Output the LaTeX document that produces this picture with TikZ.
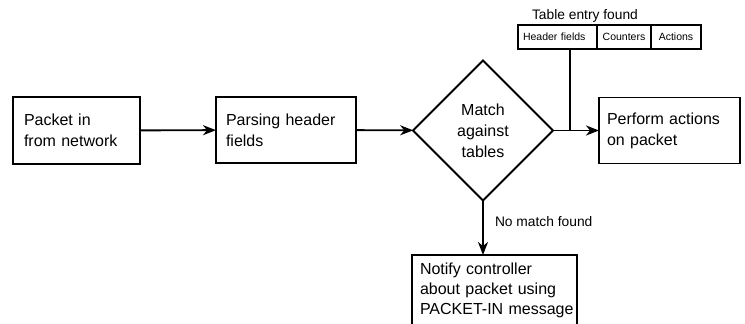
\documentclass[tikz,border=0pt]{standalone}
\usepackage{fontspec}
\setmainfont{Liberation Sans}
\usetikzlibrary{arrows.meta,shapes.geometric}
\begin{document}
\begin{tikzpicture}[x=1pt,y=-1pt,
  every node/.style={outer sep=0pt},
  box/.style={draw,line width=1.9pt,align=left,inner ysep=0pt,font=\fontsize{16}{21}\selectfont},
  cell/.style={draw,line width=1.4pt,minimum height=24pt,inner ysep=0pt,font=\fontsize{10.5}{12}\selectfont},
  conn/.style={line width=1.9pt,-{Stealth[length=13pt,width=10pt,inset=4pt]}},
  lbl/.style={font=\fontsize{13.8}{16}\selectfont,inner sep=0pt}]
\useasboundingbox (0,0) rectangle (745,324);
\node[box,minimum height=67pt,text width=105pt,inner xsep=11pt] (in) at (76.5,130.5) {\mbox{Packet in}\\\mbox{from network}};
\node[box,minimum height=66pt,text width=120pt,inner xsep=10pt] (parse) at (286,130) {\mbox{Parsing header}\\\mbox{fields}};
\node[draw,line width=1.9pt,diamond,aspect=1,minimum width=140pt,minimum height=140pt,inner sep=0pt,align=center,font=\fontsize{16}{21}\selectfont] (match) at (483,130.5) {Match\\against\\tables};
\node[box,minimum height=66pt,text width=125pt,inner xsep=8pt] (perf) at (669.5,130.5) {\mbox{Perform actions}\\\mbox{on packet}};
\node[box,minimum height=71pt,text width=149pt,inner xsep=8pt,font=\fontsize{16}{20}\selectfont] (notify) at (494.5,290.5) {\mbox{Notify controller}\\\mbox{about packet using}\\\mbox{PACKET-IN message}};
\node[cell,text width=69pt,inner xsep=5pt,align=left] (hf) at (557.5,37) {Header fields};
\node[cell,minimum width=54pt,inner xsep=0pt] (cnt) at (624,37) {Counters};
\node[cell,minimum width=50pt,inner xsep=0pt] (act) at (676,37) {Actions};
\node[lbl] (tef) at (585,16) {Table entry found};
\coordinate (j) at (570,130.5);
\draw[conn] (in) -- (parse);
\draw[conn] (parse) -- (match);
\draw[conn] (match.east) -- (perf.west);
\draw[line width=1.9pt] (hf.south -| j) -- (j);
\draw[conn] (match.south) -- (match.south |- notify.north);
\node[lbl,anchor=west] (nm) at (495,222) {No match found};
\end{tikzpicture}
\end{document}
